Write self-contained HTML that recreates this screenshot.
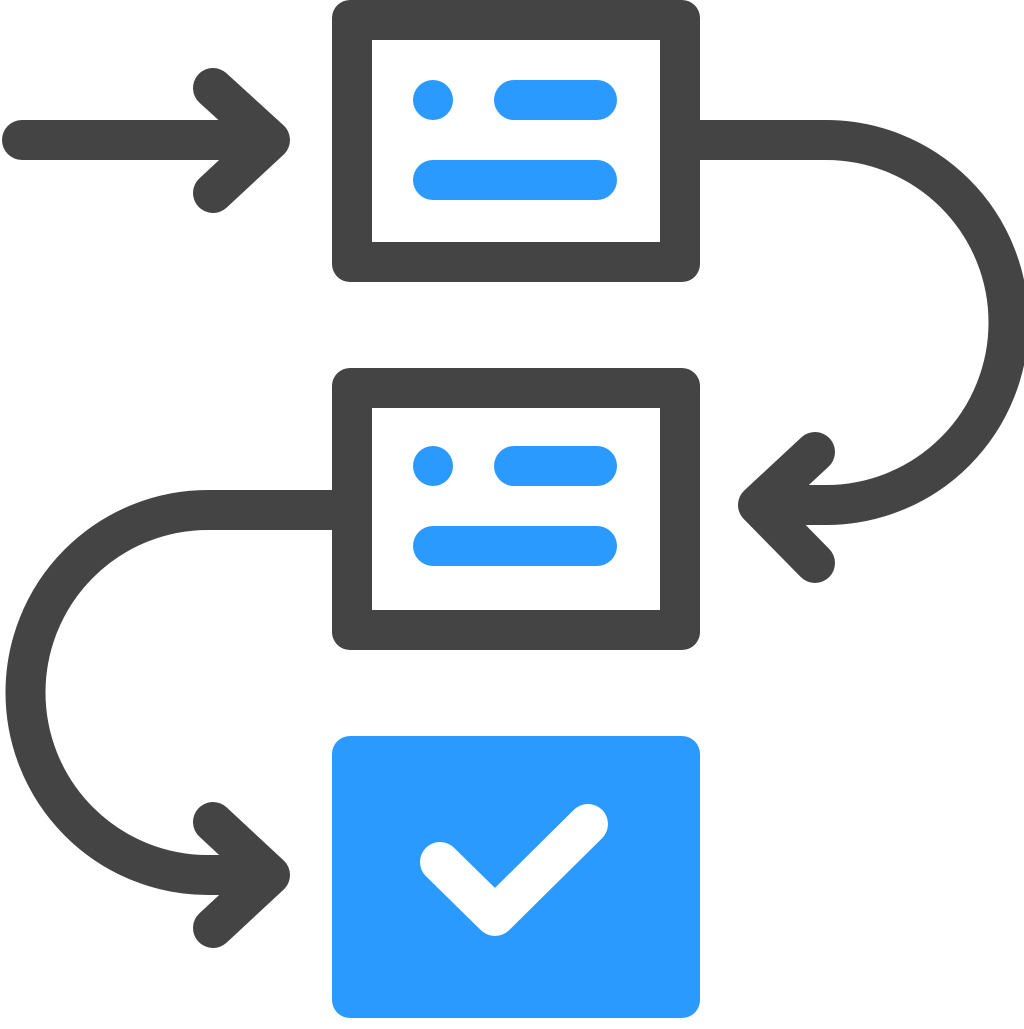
<!DOCTYPE html>
<html><head><style>html,body{margin:0;padding:0;background:#fff}</style></head>
<body>
<svg width="1024" height="1024" viewBox="0 0 1024 1024" xmlns="http://www.w3.org/2000/svg">
<g fill="none" stroke="#444444" stroke-width="40" stroke-linecap="round" stroke-linejoin="round">
  <line x1="22" y1="140" x2="268" y2="140"/>
  <polyline points="213,88 270,140 213,193"/>
  <path d="M690 140 H826 A182.5 182.5 0 0 1 826 505 H762"/>
  <polyline points="815,452 758,505 815,563"/>
  <path d="M342 510 H208 A182.5 182.5 0 0 0 208 875 H268"/>
  <polyline points="213,822 270,875 213,928"/>
</g>
<rect x="332" y="0" width="368" height="282" rx="18" fill="#444444"/>
<rect x="372" y="40" width="288" height="202" fill="#fff"/>
<rect x="332" y="368" width="368" height="282" rx="18" fill="#444444"/>
<rect x="372" y="408" width="288" height="202" fill="#fff"/>
<g stroke="#2B9AFF" stroke-width="40" stroke-linecap="round">
  <line x1="514" y1="100" x2="597" y2="100"/>
  <line x1="433" y1="180" x2="597" y2="180"/>
  <line x1="514" y1="466" x2="597" y2="466"/>
  <line x1="433" y1="546" x2="597" y2="546"/>
</g>
<circle cx="433" cy="100" r="20" fill="#2B9AFF"/>
<circle cx="433" cy="466" r="20" fill="#2B9AFF"/>
<rect x="332" y="736" width="368" height="282" rx="18" fill="#2B9AFF"/>
<polyline points="440,862 495,916 588,824" fill="none" stroke="#fff" stroke-width="40" stroke-linecap="round" stroke-linejoin="round"/>
</svg>
</body></html>
